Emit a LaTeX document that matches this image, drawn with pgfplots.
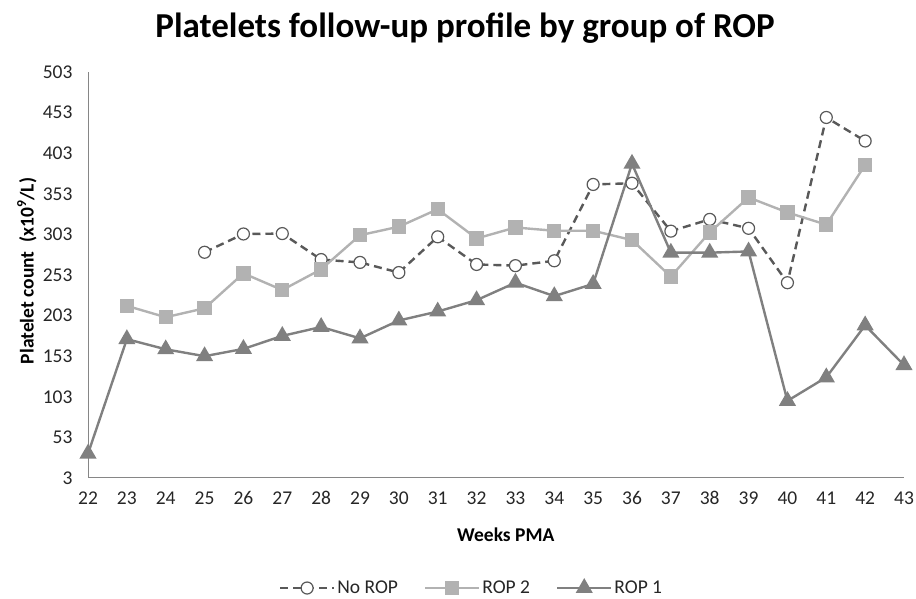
\documentclass[border=0pt]{standalone}
\usepackage{pgfplots}
\pgfplotsset{compat=1.18}
\usepackage{fontspec}
\setmainfont{Carlito}
\definecolor{noropc}{RGB}{89,89,89}
\definecolor{rop2c}{RGB}{178,178,178}
\definecolor{rop1c}{RGB}{128,128,128}
\definecolor{axc}{RGB}{134,134,134}
\begin{document}
\begin{tikzpicture}[x=1pt,y=1pt]
\path[use as bounding box] (0,0) rectangle (916,599);
\node[font=\fontsize{35}{40}\selectfont\bfseries] at (465,571) {Platelets follow-up profile by group of ROP};
\begin{axis}[
  at={(88pt,121pt)}, anchor=south west,
  scale only axis, width=816pt, height=406pt,
  xmin=22, xmax=43, ymin=3, ymax=503,
  xtick={22,...,43}, ytick={3,53,...,503},
  axis lines*=left,
  axis line style={axc, line width=1pt},
  major tick length=0pt,
  /pgf/number format/assume math mode=true,
  tick label style={font=\fontsize{19.5}{23}\selectfont, text=black!85},
  yticklabel style={xshift=-12pt},
  xticklabel style={yshift=-10pt},
  xlabel={Weeks PMA},
  ylabel={Platelet count\ \ (x10\textsuperscript{9}/L)},
  xlabel style={font=\fontsize{19.5}{23}\selectfont\bfseries, at={(axis description cs:0.512,-0.14)}, anchor=center},
  ylabel style={font=\fontsize{19.5}{23}\selectfont\bfseries, at={(axis description cs:-0.075,0.51)}, anchor=center, rotate=0},
  legend columns=3,
  legend style={draw=none, at={(0.47,-0.271)}, anchor=center, font=\fontsize{19.5}{23}\selectfont, text=black!85,
    /tikz/every even column/.append style={column sep=24pt}},
  legend image code/.code={\draw[mark repeat=2,mark phase=2] plot coordinates {(0pt,0pt)(27pt,0pt)(54pt,0pt)};},
]
\addplot[noropc, line width=2.4pt, dash pattern=on 8pt off 5pt, mark=*, mark size=6pt,
  mark options={solid, fill=white, draw=noropc, line width=1.2pt}] coordinates {
(25,281)(26,303.5)(27,304)(28,272)(29,268.5)(30,256)(31,300)(32,266)(33,264.5)(34,270.5)(35,364.5)(36,366)(37,307)(38,321.5)(39,310.5)(40,243.5)(41,447)(42,418)
};
\addlegendentry{No ROP}
\addplot[rop2c, line width=2.4pt, mark=square*, mark size=6pt, mark options={fill=rop2c, draw=rop2c}] coordinates {
(23,215)(24,201)(25,212)(26,255)(27,234.5)(28,260)(29,302)(30,312.5)(31,334)(32,298)(33,311.5)(34,307.5)(35,307.5)(36,296)(37,251)(38,305.5)(39,348.5)(40,330)(41,315)(42,388.5)
};
\addlegendentry{ROP 2}
\addplot[rop1c, line width=2.4pt, mark=triangle*, mark size=7.5pt, mark options={fill=rop1c, draw=rop1c}] coordinates {
(22,33)(23,174)(24,161.5)(25,153)(26,162)(27,178)(28,189)(29,175)(30,197)(31,208)(32,222)(33,243.5)(34,227)(35,242)(36,390)(37,280.5)(38,280.5)(39,282)(40,98)(41,127)(42,191)(43,142)
};
\addlegendentry{ROP 1}
\end{axis}
\end{tikzpicture}
\end{document}
